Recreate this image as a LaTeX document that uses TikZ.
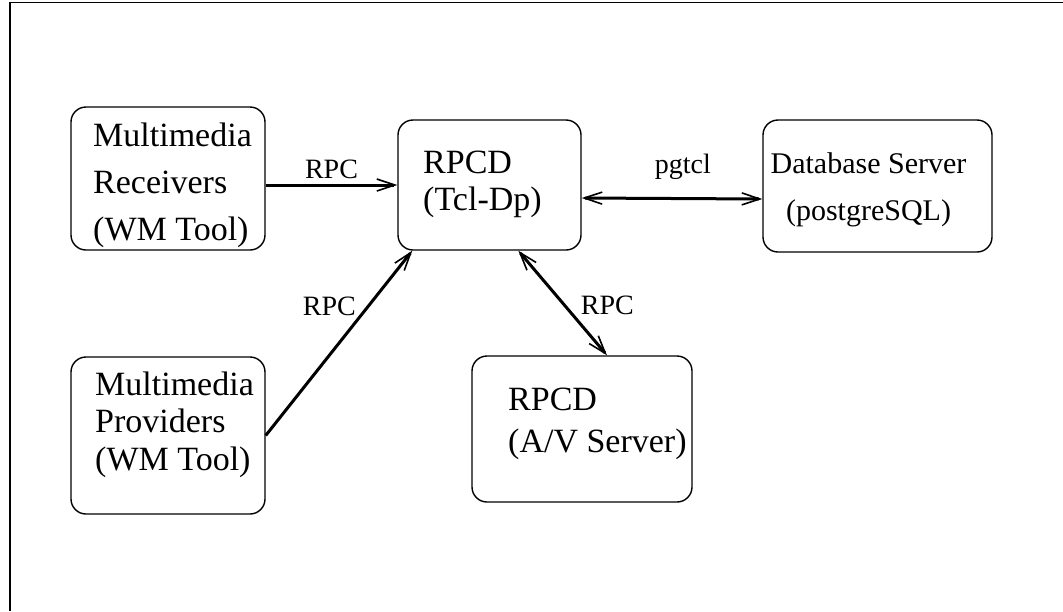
\documentclass[tikz,border=0pt]{standalone}
\usepackage{fontspec}
\setmainfont{Liberation Serif}
\usetikzlibrary{positioning,arrows.meta}
\tikzset{unit box/.style={draw=black, rectangle, line width=1.4pt, rounded corners=15pt, inner sep=0pt}}
\tikzset{box text/.style={inner sep=0pt, align=left, anchor=base west, font=\fontsize{34}{37}\selectfont}}
\tikzset{link/.style={line width=3pt}}
\tikzset{link label/.style={inner sep=0pt, font=\fontsize{28}{30}\selectfont}}
\tikzset{>={Straight Barb[length=18pt,width=12pt,line width=1.6pt]}}
\begin{document}
\begin{tikzpicture}[x=1pt, y=-1pt]
\useasboundingbox (0,0) rectangle (1063,611);
\draw[line width=1.4pt] (1063,2.5) -- (10,2.5) -- (10,611);
% boxes
\node[unit box, minimum width=194pt, minimum height=143pt] (recv) at (168,178.5) {};
\node[unit box, minimum width=194pt, minimum height=157pt] (prov) at (168,435.5) {};
\node[unit box, minimum width=183pt, minimum height=130pt] (rpcd) at (489.5,185) {};
\node[unit box, minimum width=229pt, minimum height=132pt] (db) at (877.5,186) {};
\node[unit box, minimum width=220pt, minimum height=146pt] (av) at (582,429) {};
% texts in the boxes (base = last line)
\node[box text] (recv text) at (93,240) {Multimedia\\[10pt]Receivers\\[10pt](WM Tool)};
\node[box text] (prov text) at (95,470) {Multimedia\\[0.5pt]Providers\\[0.5pt](WM Tool)};
\node[box text] (rpcd text) at (423,210) {RPCD\\(Tcl-Dp)};
\node[box text] (av text) at (508,452) {RPCD\\[5pt](A/V Server)};
\node[box text, align=center, anchor=base, font=\fontsize{30}{47}\selectfont] (db text) at (868.5,220) {Database Server\\(postgreSQL)};
% connectors
\draw[link, ->] (recv.east |- rpcd.west) -- node[link label, above=5pt] (recv rpc) {RPC} (rpcd.west);
\draw[link, ->] (prov.east) -- node[link label, pos=0.7, left=11pt] (prov rpc) {RPC} ([xshift=15pt]rpcd.south west);
\draw[link, <->] ([xshift=121pt]rpcd.south west) -- node[link label, pos=0.52, right=15pt] (av rpc) {RPC} ([xshift=25pt]av.north);
\draw[link, <->] ([yshift=-13pt]rpcd.east) -- node[link label, pos=0.56, above=18pt] (db pgtcl) {pgtcl} ([yshift=-13pt]db.west);
\end{tikzpicture}
\end{document}
